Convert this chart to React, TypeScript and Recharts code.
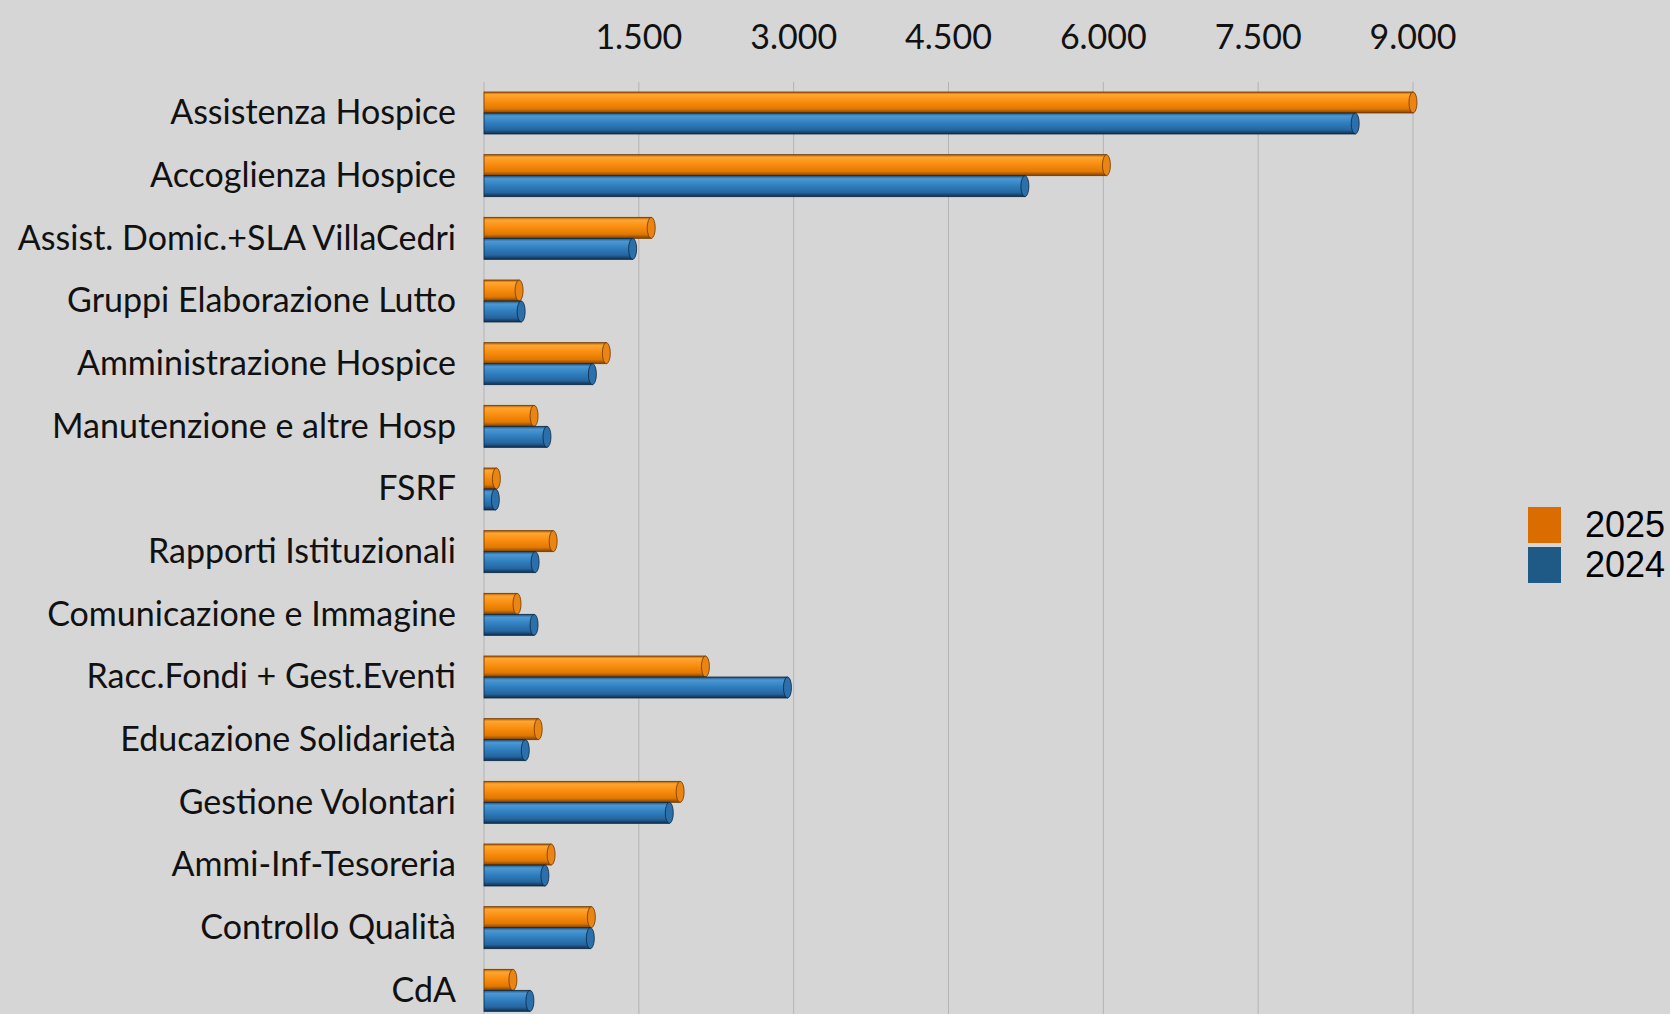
import { Bar, BarChart, CartesianGrid, Legend, XAxis, YAxis } from "recharts";

const categories = [
    "Assistenza Hospice",
    "Accoglienza Hospice",
    "Assist. Domic.+SLA VillaCedri",
    "Gruppi Elaborazione Lutto",
    "Amministrazione Hospice",
    "Manutenzione e altre Hosp",
    "FSRF",
    "Rapporti Istituzionali",
    "Comunicazione e Immagine",
    "Racc.Fondi + Gest.Eventi",
    "Educazione Solidarietà",
    "Gestione Volontari",
    "Ammi-Inf-Tesoreria",
    "Controllo Qualità",
    "CdA",
];

const values2025 = [9000, 6030, 1620, 340, 1185, 485, 120, 670, 320, 2145, 525, 1900, 650, 1040, 280];
const values2024 = [8440, 5240, 1440, 360, 1050, 610, 110, 495, 485, 2940, 400, 1795, 590, 1030, 445];

const xTicks = [0, 1500, 3000, 4500, 6000, 7500, 9000];

const legendOrder = ["y2025", "y2024"];
const legendColors: Record<string, string> = {
    y2025: "#db6c00",
    y2024: "#1f5a87",
};
const legendNames: Record<string, string> = {
    y2025: "2025",
    y2024: "2024",
};

const data = categories.map((name, i) => ({
    name,
    y2025: values2025[i],
    y2024: values2024[i],
}));

const fmt = (v: number) => String(v).replace(/\B(?=(\d{3})+(?!\d))/g, ".");

function TopTick(props: any) {
    const { x, y, payload } = props;
    if (payload.value === 0) return null;
    return (
        <text x={x} y={y} textAnchor="middle" fontFamily="Lato" fontSize={34} fill="#111">
            {fmt(payload.value)}
        </text>
    );
}

function CategoryTick(props: any) {
    const { x, y, payload } = props;
    return (
        <text x={x} y={y} dy={11} textAnchor="end" fontFamily="Lato" fontSize={34} fill="#111">
            {payload.value}
        </text>
    );
}

function Cylinder(props: any) {
    const { x, y, width, height, body, cap, edge } = props;
    if (!width || width <= 0) return null;
    const rx = Math.min(4, width / 2);
    return (
        <g>
            <rect x={x} y={y} width={width} height={height} fill={body} stroke={edge} strokeWidth={0.8} />
            <ellipse cx={x + width} cy={y + height / 2} rx={rx} ry={height / 2} fill={cap} stroke={edge} strokeWidth={0.8} />
        </g>
    );
}

function LegendBox(props: any) {
    const items = [...(props.payload || [])].sort(
        (a: any, b: any) => legendOrder.indexOf(a.dataKey) - legendOrder.indexOf(b.dataKey)
    );
    return (
        <div style={{ display: "flex", flexDirection: "column", gap: 4 }}>
            {items.map((p: any) => (
                <div key={p.dataKey} style={{ display: "flex", alignItems: "center", height: 36 }}>
                    <div style={{ width: 33, height: 36, background: legendColors[p.dataKey] }} />
                    <span
                        style={{
                            marginLeft: 24,
                            fontFamily: "Liberation Sans",
                            fontSize: 36,
                            color: "#000",
                            lineHeight: "36px",
                        }}
                    >
                        {legendNames[p.dataKey]}
                    </span>
                </div>
            ))}
        </div>
    );
}

export default function App() {
    return (
        <div
            style={{
                position: "fixed",
                left: 0,
                top: 0,
                width: 1670,
                height: 1014,
                overflow: "hidden",
                background: "#d6d6d6",
            }}
        >
            <BarChart
                layout="vertical"
                width={1670}
                height={1022}
                data={data}
                margin={{ top: 0, right: 257, bottom: 0, left: 0 }}
                barSize={21}
                barGap={0}
            >
                <defs>
                    <linearGradient id="orangeBody" x1="0" y1="0" x2="0" y2="1">
                        <stop offset="0%" stopColor="#a85800" />
                        <stop offset="12%" stopColor="#ffa531" />
                        <stop offset="45%" stopColor="#f98e10" />
                        <stop offset="80%" stopColor="#e27800" />
                        <stop offset="100%" stopColor="#7e4000" />
                    </linearGradient>
                    <linearGradient id="blueBody" x1="0" y1="0" x2="0" y2="1">
                        <stop offset="0%" stopColor="#1d4f7c" />
                        <stop offset="14%" stopColor="#4c98d3" />
                        <stop offset="45%" stopColor="#3180c0" />
                        <stop offset="80%" stopColor="#2565a0" />
                        <stop offset="100%" stopColor="#0f2f4f" />
                    </linearGradient>
                </defs>
                <CartesianGrid horizontal={false} stroke="#b4b4b4" strokeWidth={1} />
                <XAxis
                    type="number"
                    orientation="top"
                    domain={[0, 9000]}
                    ticks={xTicks}
                    height={82}
                    axisLine={false}
                    tickLine={false}
                    tickMargin={27}
                    tick={<TopTick />}
                    interval={0}
                />
                <YAxis
                    type="category"
                    dataKey="name"
                    width={484}
                    axisLine={false}
                    tickLine={false}
                    tickMargin={22}
                    tick={<CategoryTick />}
                    interval={0}
                />
                <Legend
                    layout="vertical"
                    align="center"
                    verticalAlign="middle"
                    content={<LegendBox />}
                    wrapperStyle={{ left: 1528, top: 507, width: 142 }}
                />
                <Bar
                    dataKey="y2025"
                    name="2025"
                    fill="#db6c00"
                    isAnimationActive={false}
                    shape={(p: any) => <Cylinder {...p} body="url(#orangeBody)" cap="#ea8412" edge="#6e3800" />}
                />
                <Bar
                    dataKey="y2024"
                    name="2024"
                    fill="#1f5a87"
                    isAnimationActive={false}
                    shape={(p: any) => <Cylinder {...p} body="url(#blueBody)" cap="#2b70aa" edge="#0c2740" />}
                />
            </BarChart>
        </div>
    );
}
